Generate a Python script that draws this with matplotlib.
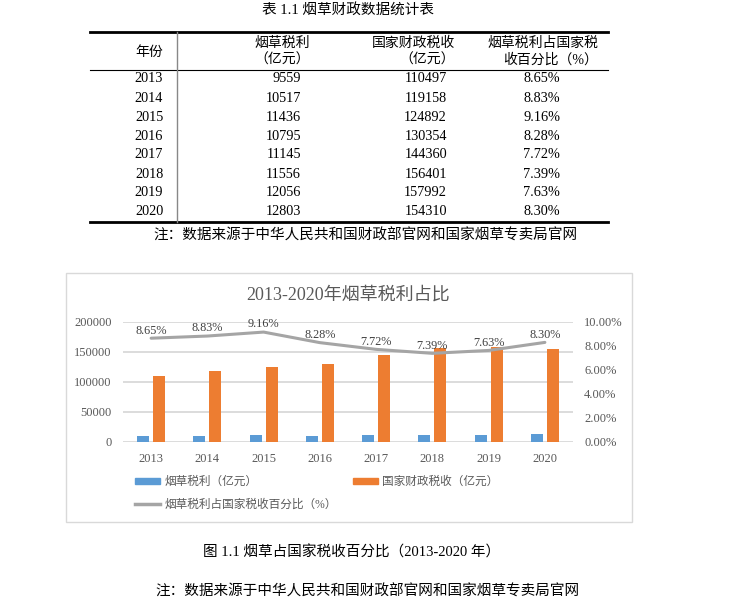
import matplotlib
matplotlib.use("Agg")
import matplotlib.pyplot as plt
from matplotlib.lines import Line2D
from matplotlib.patches import Rectangle
from matplotlib.ticker import FuncFormatter

# ---------------- data ----------------
years = ["2013", "2014", "2015", "2016", "2017", "2018", "2019", "2020"]
tobacco_tax = [9559, 10517, 11436, 10795, 11145, 11556, 12056, 12803]          # 亿元
national_tax = [110497, 119158, 124892, 130354, 144360, 156401, 157992, 154310]  # 亿元
share_pct = [8.65, 8.83, 9.16, 8.28, 7.72, 7.39, 7.63, 8.30]                   # %

left_ticks = [0, 50000, 100000, 150000, 200000]
right_ticks = [0.0, 0.02, 0.04, 0.06, 0.08, 0.10]

table_title = "表 1.1 烟草财政数据统计表"
col_headers = [["年份"], ["烟草税利", "（亿元）"], ["国家财政税收", "（亿元）"],
               ["烟草税利占国家税", "收百分比（%）"]]
note_text = "注：数据来源于中华人民共和国财政部官网和国家烟草专卖局官网"
chart_title = "2013-2020年烟草税利占比"
legend_labels = ["烟草税利（亿元）", "国家财政税收（亿元）", "烟草税利占国家税收百分比（%）"]
fig_caption = "图 1.1 烟草占国家税收百分比（2013-2020 年）"

FAM = ["Liberation Serif", "Noto Sans CJK SC", "DejaVu Sans"]
plt.rcParams["font.family"] = FAM

W, H = 750, 600
fig = plt.figure(figsize=(W / 100, H / 100), dpi=100)


def fx(x):
    return x / W


def fy(y):
    return 1 - y / H


def hline(x0, x1, y, lw, color="black"):
    fig.add_artist(Line2D([fx(x0), fx(x1)], [fy(y), fy(y)], lw=lw, color=color,
                          transform=fig.transFigure))


# ---------------- table ----------------
fig.text(fx(348), fy(10), table_title, ha="center", va="center", fontsize=10.5)
hline(90, 608, 32, 2.0)
hline(90, 608, 70, 0.8)
hline(90, 608, 222, 2.0)
fig.add_artist(Line2D([fx(177), fx(177)], [fy(32), fy(222)], lw=1.0, color="#888888",
                      transform=fig.transFigure))

# headers
fig.text(fx(149), fy(52), col_headers[0][0], ha="center", va="center", fontsize=10)
hdr_right = [310, 455, 598]
for (lines, xr) in zip(col_headers[1:], hdr_right):
    for k, t in enumerate(lines):
        fig.text(fx(xr), fy(43 + 17 * k), t, ha="right", va="center", fontsize=10)

# rows
for i, yr in enumerate(years):
    y = 79 + 19 * i
    fig.text(fx(149), fy(y), yr, ha="center", va="center", fontsize=10.3)
    fig.text(fx(301), fy(y), str(tobacco_tax[i]), ha="right", va="center", fontsize=10.3)
    fig.text(fx(447), fy(y), str(national_tax[i]), ha="right", va="center", fontsize=10.3)
    fig.text(fx(560), fy(y), f"{share_pct[i]:.2f}%", ha="right", va="center", fontsize=10.3)

fig.text(fx(365), fy(236), note_text, ha="center", va="center", fontsize=10.5)

# ---------------- chart ----------------
fig.add_artist(Rectangle((fx(66), fy(522)), fx(632) - fx(66), fy(273) - fy(522),
                         transform=fig.transFigure, fill=False, edgecolor="#d9d9d9", lw=1.0))
fig.text(fx(348), fy(295), chart_title, ha="center", va="center", fontsize=13, color="#595959")

ax = fig.add_axes([fx(123), fy(442), (573 - 123) / W, (442 - 322) / H])
xs = list(range(len(years)))
bw = 0.21
off = 0.142
b1 = ax.bar([x - off for x in xs], tobacco_tax, width=bw, color="#5b9bd5", zorder=2)
b2 = ax.bar([x + off for x in xs], national_tax, width=bw, color="#ed7d31", zorder=2)
ax.set_xlim(-0.5, len(years) - 0.5)
ax.set_ylim(0, 200000)
ax.set_yticks(left_ticks)
ax.set_yticklabels([str(v) for v in left_ticks])
ax.set_xticks(xs)
ax.set_xticklabels(years)
ax.yaxis.grid(True, color="#d9d9d9", lw=1.3, zorder=0)
ax.set_axisbelow(True)
for s in ax.spines.values():
    s.set_visible(False)
ax.tick_params(axis="y", length=0, pad=8, labelsize=9, labelcolor="#595959")
ax.tick_params(axis="x", length=0, pad=8, labelsize=9, labelcolor="#595959")

ax2 = ax.twinx()
share_frac = [v / 100 for v in share_pct]
ln, = ax2.plot(xs, share_frac, color="#a5a5a5", lw=2.2, zorder=3, solid_capstyle="round")
ax2.set_ylim(0, 0.10)
ax2.set_yticks(right_ticks)
ax2.yaxis.set_major_formatter(FuncFormatter(lambda v, p: f"{v * 100:.2f}%"))
for s in ax2.spines.values():
    s.set_visible(False)
ax2.tick_params(axis="y", length=0, pad=8, labelsize=9, labelcolor="#595959")
for x, v in zip(xs, share_pct):
    ax2.annotate(f"{v:.2f}%", (x, v / 100), xytext=(0, 5.5), textcoords="offset points",
                 ha="center", va="center", fontsize=8.8, color="#404040")

leg_handles = [Rectangle((0, 0), 1, 1, color="#5b9bd5"),
               Line2D([0], [0], color="#a5a5a5", lw=2.5),
               Rectangle((0, 0), 1, 1, color="#ed7d31")]
fig.legend(leg_handles, [legend_labels[0], legend_labels[2], legend_labels[1]],
           ncol=2, loc="upper left", bbox_to_anchor=(fx(135), fy(476)),
           bbox_transform=fig.transFigure, frameon=False, borderpad=0, borderaxespad=0,
           fontsize=8.4, handlelength=2.15, handleheight=0.5, handletextpad=0.34,
           columnspacing=1.4, labelspacing=0.95, labelcolor="#595959")

# ---------------- caption & note ----------------
fig.text(fx(352), fy(553), fig_caption, ha="center", va="center", fontsize=10.5)
fig.text(fx(367), fy(592), note_text, ha="center", va="center", fontsize=10.5)

fig.savefig("out.png", dpi=100)
